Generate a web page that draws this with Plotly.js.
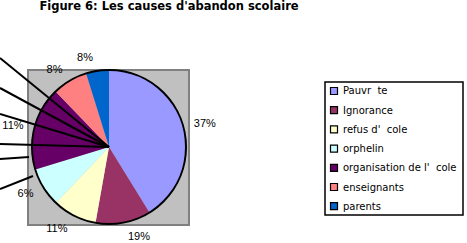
<!DOCTYPE html>
<html>
<head>
<meta charset="utf-8">
<script src="https://cdn.plot.ly/plotly-3.0.1.min.js"></script>
<style>html,body{margin:0;padding:0;background:#fff;}</style>
</head>
<body>
<div id="chart" style="width:467px;height:243px;"></div>
<script>
// ---- data ----
const categories = ["Pauvr\u00a0\u00a0te", "Ignorance", "refus d'\u00a0\u00a0cole", "orphelin", "organisation de l'\u00a0\u00a0cole", "enseignants", "parents"];
const sliceShares = [41.2, 11.6, 9.3, 8.2, 17.5, 7.4, 4.8];   // slice sizes as drawn
const pctLabels = ["37%", "19%", "11%", "6%", "11%", "8%", "8%"]; // printed percentages
const colors = ["#9999FF", "#993366", "#FFFFCC", "#CCFFFF", "#660066", "#FF8080", "#0066CC"];
const titleText = "Figure 6: Les causes d'abandon scolaire";

// ---- layout helpers (pixel -> paper) ----
const W = 467, H = 243;
const px = x => x / W;
const py = y => 1 - y / H;
const FONT = "Liberation Sans, Arial, sans-serif";
const WIDEFONT = "DejaVu Sans, Verdana, sans-serif";

const cx = 109, cy = 147, r = 77, rLabel = 85;

const shapes = [
  // grey plot area
  {type: "rect", xref: "paper", yref: "paper", x0: px(28), x1: px(189), y0: py(225), y1: py(70),
   fillcolor: "#C0C0C0", line: {color: "#808080", width: 2}, layer: "below"},
  // pie outline
  {type: "circle", xref: "paper", yref: "paper", x0: px(cx - r), x1: px(cx + r), y0: py(cy + r), y1: py(cy - r),
   line: {color: "#000", width: 2}, layer: "above"}
];
// leader lines
const leaderEnds = [[0, 58, cx, cy], [0, 88, cx, cy], [0, 114, cx, cy], [0, 144, cx, cy], [0, 159, 29, 157], [0, 189, 33, 176]];
leaderEnds.forEach(l => shapes.push({type: "line", xref: "paper", yref: "paper",
  x0: px(l[0]), y0: py(l[1]), x1: px(l[2]), y1: py(l[3]), line: {color: "#000", width: 2}, layer: "above"}));

// custom legend
const annotations = [];
shapes.push({type: "rect", xref: "paper", yref: "paper", x0: px(325), x1: px(463), y0: py(215), y1: py(82),
  line: {color: "#000", width: 1.5}, fillcolor: "rgba(0,0,0,0)"});
categories.forEach((c, i) => {
  const yc = 91 + i * 19.2;
  shapes.push({type: "rect", xref: "paper", yref: "paper", x0: px(330.5), x1: px(337.5), y0: py(yc + 3.5), y1: py(yc - 3.5),
    fillcolor: colors[i], line: {color: "#000", width: 1.2}});
  annotations.push({xref: "paper", yref: "paper", x: px(341), y: py(yc), xanchor: "left", yanchor: "middle",
    text: c, showarrow: false, font: {family: WIDEFONT, size: 10, color: "#000"}});
});

const pieTrace = {
  type: "pie",
  values: sliceShares,
  labels: categories,
  textinfo: "none",
  marker: {colors: colors, line: {width: 0}},
  sort: false,
  direction: "clockwise",
  rotation: 0,
  hoverinfo: "none",
  domain: {x: [px(cx - r), px(cx + r)], y: [py(cy + r), py(cy - r)]},
  showlegend: false
};
// transparent twin pie, slightly larger, used only to place the percentage labels
const labelTrace = {
  type: "pie",
  values: sliceShares,
  labels: categories,
  text: pctLabels,
  textinfo: "text",
  textposition: "outside",
  textfont: {family: FONT, size: 11, color: "#000"},
  outsidetextfont: {family: FONT, size: 11, color: "#000"},
  marker: {colors: colors.map(() => "rgba(0,0,0,0)"), line: {width: 0}},
  sort: false,
  direction: "clockwise",
  rotation: 0,
  hoverinfo: "none",
  domain: {x: [px(cx - rLabel), px(cx + rLabel)], y: [py(cy + rLabel), py(cy - rLabel)]},
  showlegend: false
};

const layout = {
  width: W, height: H,
  margin: {l: 0, r: 0, t: 0, b: 0},
  paper_bgcolor: "#fff",
  showlegend: false,
  title: {text: titleText, x: px(169), xanchor: "center", y: py(6), yanchor: "middle",
          font: {family: WIDEFONT, size: 11.5, color: "#000", weight: "bold"}},
  shapes: shapes,
  annotations: annotations
};

Plotly.newPlot("chart", [pieTrace, labelTrace], layout, {staticPlot: true, displayModeBar: false});
</script>
</body>
</html>
